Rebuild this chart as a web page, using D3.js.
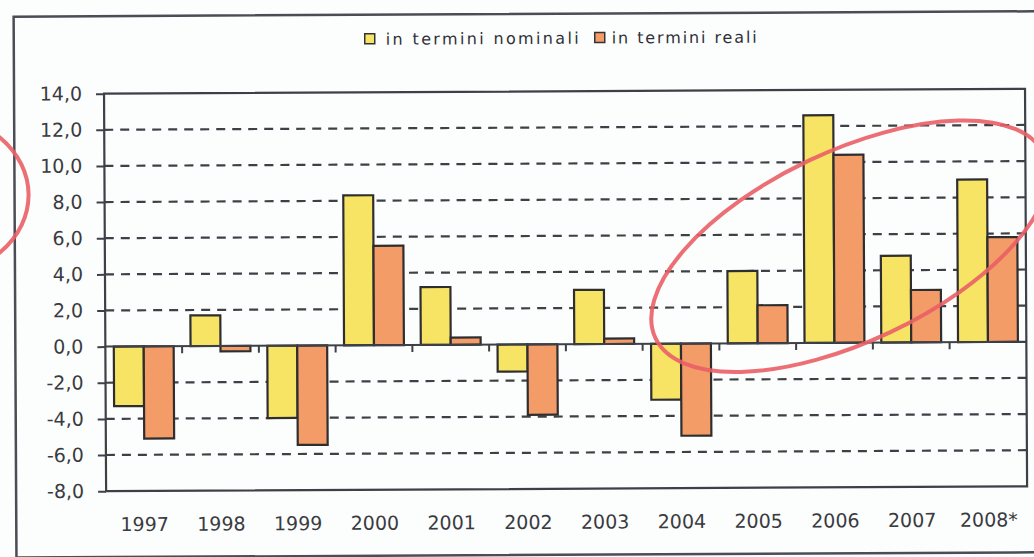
<!DOCTYPE html>
<html>
<meta charset="utf-8">
<title>in termini nominali / reali</title>
<style>
  body { margin: 0; background: #fcfdfd; }
  svg { display: block; }
</style>
<body>
<div id="chart"></div>
<script src="https://d3js.org/d3.v7.min.js"></script>
<script>
// data
var years = ["1997", "1998", "1999", "2000", "2001", "2002", "2003", "2004", "2005", "2006", "2007", "2008*"];
var nominali = [-3.3, 1.7, -4.0, 8.3, 3.2, -1.5, 3.0, -3.1, 4.0, 12.6, 4.8, 9.0];
var reali = [-5.1, -0.3, -5.5, 5.5, 0.4, -3.9, 0.3, -5.1, 2.1, 10.4, 2.9, 5.8];
var yTicks = [14, 12, 10, 8, 6, 4, 2, 0, -2, -4, -6, -8];
var seriesNames = ["in termini nominali", "in termini reali"];
var seriesColors = ["#f8e464", "#f39c68"];

var W = 1034, H = 557;
// note: "top" is a reserved window prop, so use plot* names
var plotL = 105, plotR = 1026, plotT = 91.5, plotB = 489;

var svg = d3.select("#chart").append("svg")
  .attr("width", W).attr("height", H);

// whole scan is slightly tilted
var g = svg.append("g").attr("transform", "rotate(-0.3, 517, 278)");

// outer frame
g.append("rect")
  .attr("x", 15).attr("y", 14)
  .attr("width", 1040).attr("height", 541)
  .attr("fill", "none")
  .attr("stroke", "#4a4d55").attr("stroke-width", 2.5);

var x = d3.scaleBand().domain(years).range([plotL, plotR])
  .paddingInner(0.22).paddingOuter(0.11);
var x1 = d3.scaleBand().domain([0, 1]).range([0, x.bandwidth()]);
var y = d3.scaleLinear().domain([-8, 14]).range([plotB, plotT]);
// italian decimal comma, plain hyphen for minus
var fmt = function (v) { return v.toFixed(1).replace(".", ","); };

// dashed grid
g.selectAll("line.grid")
  .data(yTicks.filter(function (d) { return d !== 14 && d !== -8 && d !== 0; }))
  .enter().append("line")
  .attr("class", "grid")
  .attr("x1", plotL).attr("x2", plotR)
  .attr("y1", function (d) { return y(d); })
  .attr("y2", function (d) { return y(d); })
  .attr("stroke", "#3e4047").attr("stroke-width", 2.2)
  .attr("stroke-dasharray", "9,7");

// y axis
var yAxis = d3.axisLeft(y).tickValues(yTicks).tickSize(8).tickPadding(14).tickFormat(fmt);
var ya = g.append("g").attr("transform", "translate(" + plotL + ",0)").call(yAxis);
ya.select(".domain").remove();
ya.selectAll("line").attr("stroke", "#3e4047").attr("stroke-width", 2);
ya.selectAll("text")
  .style("font-family", "DejaVu Sans")
  .style("font-size", "19px")
  .attr("fill", "#3a3b40");

// plot border
g.append("rect")
  .attr("x", plotL).attr("y", plotT)
  .attr("width", plotR - plotL).attr("height", plotB - plotT)
  .attr("fill", "none")
  .attr("stroke", "#3e4047").attr("stroke-width", 2.2);

// category ticks under the zero line
var bounds = years.slice(1).map(function (d) { return x(d) - x.step() * x.paddingInner() / 2; });
g.selectAll("line.ctick").data(bounds).enter().append("line")
  .attr("class", "ctick")
  .attr("x1", function (d) { return d; }).attr("x2", function (d) { return d; })
  .attr("y1", y(0)).attr("y2", y(0) + 7)
  .attr("stroke", "#3e4047").attr("stroke-width", 2);

// bars
[nominali, reali].forEach(function (vals, si) {
  g.selectAll("rect.s" + si).data(vals).enter().append("rect")
    .attr("class", "s" + si)
    .attr("x", function (d, i) { return x(years[i]) + x1(si); })
    .attr("width", x1.bandwidth())
    .attr("y", function (d) { return y(Math.max(0, d)); })
    .attr("height", function (d) { return Math.abs(y(d) - y(0)); })
    .attr("fill", seriesColors[si])
    .attr("stroke", "#2e2e30").attr("stroke-width", 2.2);
});

// zero line
g.append("line")
  .attr("x1", plotL).attr("x2", plotR)
  .attr("y1", y(0)).attr("y2", y(0))
  .attr("stroke", "#3e4047").attr("stroke-width", 2);

// x labels
g.selectAll("text.xl").data(years).enter().append("text")
  .attr("class", "xl")
  .attr("x", function (d) { return x(d) + x.bandwidth() / 2; })
  .attr("y", 529)
  .attr("text-anchor", "middle")
  .style("font-family", "DejaVu Sans")
  .style("font-size", "19px")
  .attr("fill", "#3a3b40")
  .text(function (d) { return d; });

// legend
var leg = [
  { sx: 366, tx: 387, len: 193 },
  { sx: 596, tx: 613, len: 145 }
];
leg.forEach(function (l, i) {
  g.append("rect")
    .attr("x", l.sx).attr("y", 33).attr("width", 10).attr("height", 10)
    .attr("fill", seriesColors[i]).attr("stroke", "#333").attr("stroke-width", 1.5);
  g.append("text")
    .attr("x", l.tx).attr("y", 44)
    .attr("textLength", l.len).attr("lengthAdjust", "spacing")
    .style("font-family", "DejaVu Sans")
    .style("font-size", "16px")
    .attr("fill", "#2f3036")
    .text(seriesNames[i]);
});

// hand-drawn red marks on the scan
g.append("ellipse")
  .attr("cx", 850).attr("cy", 248).attr("rx", 215).attr("ry", 95)
  .attr("transform", "rotate(-25, 850, 248)")
  .attr("fill", "none").attr("stroke", "#ea5f66").attr("stroke-width", 4).attr("opacity", 0.9);
g.append("ellipse")
  .attr("cx", -71).attr("cy", 192).attr("rx", 100).attr("ry", 82)
  .attr("fill", "none").attr("stroke", "#ea5f66").attr("stroke-width", 4).attr("opacity", 0.9);
</script>
</body>
</html>
